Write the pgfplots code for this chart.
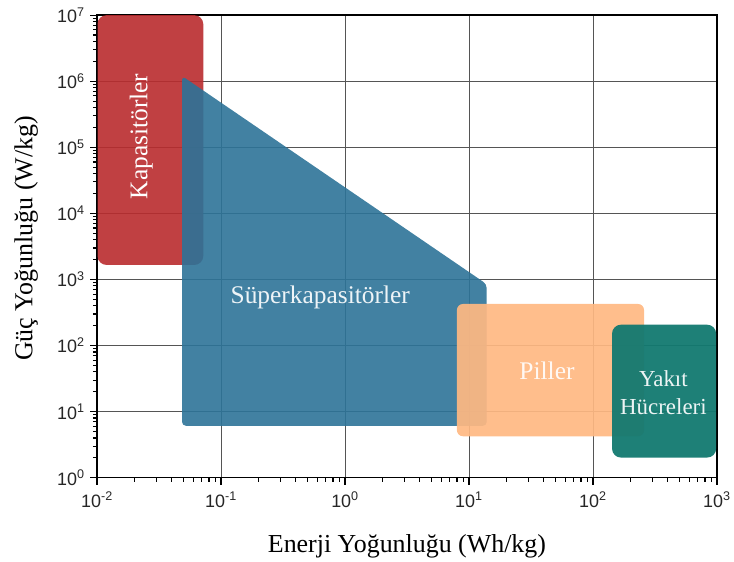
\documentclass[border=0pt]{standalone}
\usepackage{fontspec}
\setmainfont{Liberation Serif}
\newfontfamily\ticksans{Liberation Sans}
\usepackage{pgfplots}
\pgfplotsset{compat=1.18}

\definecolor{capred}{RGB}{185,43,46}
\definecolor{supblue}{RGB}{45,115,152}
\definecolor{batorange}{RGB}{255,184,130}
\definecolor{fcteal}{RGB}{18,121,112}
\definecolor{gridgray}{RGB}{85,85,85}

\begin{document}
\begin{tikzpicture}[x=1pt,y=1pt]
\begin{axis}[
  at={(0,0)}, anchor=south west,
  scale only axis, width=622pt, height=464.1pt,
  xmode=log, ymode=log,
  xmin=1e-2, xmax=1e3, ymin=1, ymax=1e7,
  xtick={1e-2,1e-1,1,10,100,1000},
  xticklabels={10\textsuperscript{-2},10\textsuperscript{-1},10\textsuperscript{0},10\textsuperscript{1},10\textsuperscript{2},10\textsuperscript{3}},
  ytick={1,10,100,1e3,1e4,1e5,1e6,1e7},
  yticklabels={10\textsuperscript{0},10\textsuperscript{1},10\textsuperscript{2},10\textsuperscript{3},10\textsuperscript{4},10\textsuperscript{5},10\textsuperscript{6},10\textsuperscript{7}},
  tick label style={font=\ticksans\fontsize{18}{19}\selectfont, text=black!85},
  xticklabel style={yshift=-4pt},
  yticklabel style={xshift=-2pt},
  tick align=outside,
  xtick pos=left, ytick pos=left,
  major tick length=7pt, minor tick length=4pt,
  every tick/.style={black, line width=1.2pt},
  axis line style={black, line width=1.5pt},
  grid=major,
  major grid style={draw=gridgray, line width=0.9pt},
  xlabel={Enerji Yoğunluğu (Wh/kg)},
  xlabel style={font=\fontsize{26}{30}\selectfont, at={(axis description cs:0.5,0)}, anchor=base, yshift=-74.7pt},
  ylabel={Güç Yoğunluğu (W/kg)},
  ylabel style={font=\fontsize{26}{30}\selectfont, at={(axis description cs:0,0.5)}, anchor=center, yshift=71pt, xshift=8pt},
]
% Kondansatörler
\addplot[draw=none, fill=capred, fill opacity=0.9, rounded corners=9pt]
  coordinates {(0.0101,1660) (0.072,1660) (0.072,1e7) (0.0101,1e7)} -- cycle;
% Süperkapasitörler
\addplot[draw=none, fill=supblue, fill opacity=0.9, rounded corners=4pt]
  coordinates {(0.0485,6.1) (13.9,6.1) (13.9,850) (0.0485,1.2e6)} -- cycle;
% Piller
\addplot[draw=none, fill=batorange, fill opacity=0.92, rounded corners=6pt]
  coordinates {(8.0,4.24) (258,4.24) (258,426) (8.0,426)} -- cycle;
% Yakıt hücreleri
\addplot[draw=none, fill=fcteal, fill opacity=0.95, rounded corners=9pt]
  coordinates {(142.5,2.02) (985,2.02) (985,207) (142.5,207)} -- cycle;

\node[text=white, rotate=90, font=\fontsize{25.5}{30}\selectfont] at (axis cs:0.0228,1.46e5) {Kapasitörler};
\node[text=white!92!supblue, font=\fontsize{25.5}{30}\selectfont] at (axis cs:0.632,543) {Süperkapasitörler};
\node[text=white!90!batorange, font=\fontsize{25.5}{30}\selectfont] at (axis cs:42.6,41.5) {Piller};
\node[text=white!92!fcteal, align=center, font=\fontsize{23}{28.5}\selectfont] at (axis cs:370,19.4) {Yakıt\\Hücreleri};
\end{axis}
\path[use as bounding box] (-97.3,-83.7) rectangle (636.7,479.3);
\end{tikzpicture}
\end{document}
